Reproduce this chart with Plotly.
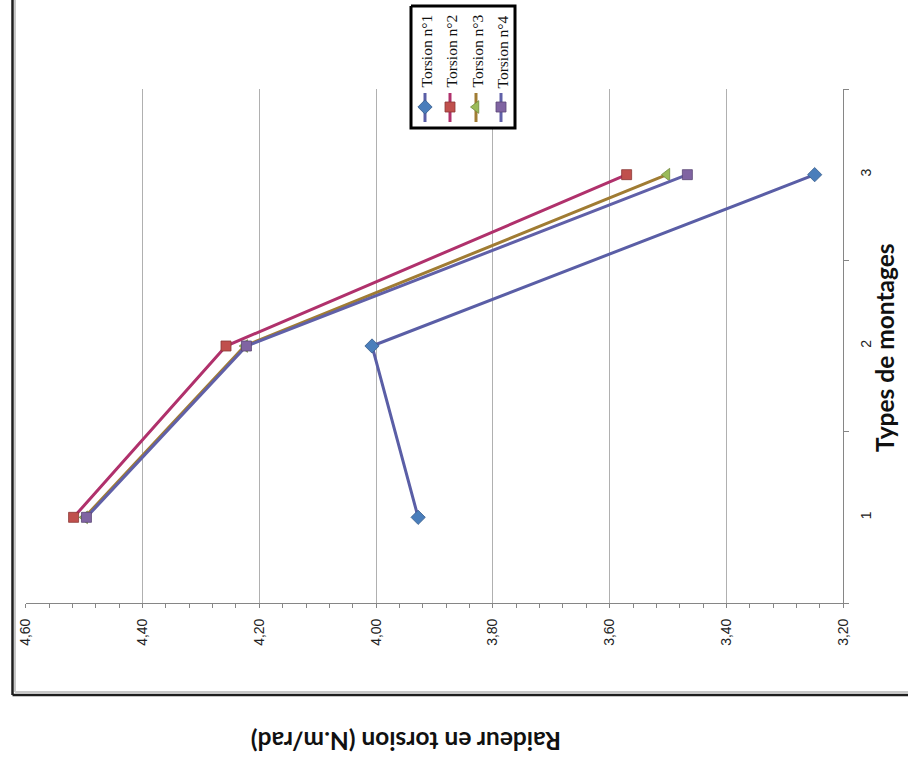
import plotly.graph_objects as go

# Data: torsional stiffness per mounting type
categories = [1, 2, 3]
series_names = ["Torsion n°1", "Torsion n°2", "Torsion n°3", "Torsion n°4"]
torsion_1 = [3.928, 4.007, 3.249]
torsion_2 = [4.518, 4.257, 3.571]
torsion_3 = [4.499, 4.225, 3.502]
torsion_4 = [4.496, 4.222, 3.467]
value_ticks = [3.20, 3.40, 3.60, 3.80, 4.00, 4.20, 4.40, 4.60]

W, H = 908, 767

line_colors = ["#5A5EA6", "#B0316C", "#A07C33", "#6060A8"]
marker_fill = ["#4A7EBB", "#C0504D", "#9BBB59", "#8064A2"]
marker_edge = ["#385D8A", "#8C3836", "#71893F", "#5C4776"]
symbols = ["diamond", "square", "triangle-left", "square"]
msizes = [11, 10, 11, 10]
all_series = [torsion_1, torsion_2, torsion_3, torsion_4]

fig = go.Figure()

for name, vals, lc, mf, me, sym, ms in zip(series_names, all_series, line_colors,
                                            marker_fill, marker_edge, symbols, msizes):
    fig.add_trace(go.Scatter(
        x=vals, y=categories, mode="lines+markers", name=name,
        line=dict(color=lc, width=3),
        marker=dict(symbol=sym, size=ms, color=mf, line=dict(color=me, width=0.8)),
        showlegend=False, hoverinfo="skip",
    ))

# helper trace so the category tick-mark axis is rendered
fig.add_trace(go.Scatter(x=[None], y=[None], yaxis="y2", showlegend=False))

# plot area in pixels
L, R, T, B = 25.7, 843.3, 89.0, 603.0

# rotated legend drawn in pixel space (x3/y3 cover the whole canvas)
leg_x = [425, 450, 476, 501]
leg_line_top, leg_line_bot, leg_marker_y = 93, 122, 107

# legend frame (white box with thick black border)
fig.add_trace(go.Scatter(
    x=[411, 515, 515, 411, 411], y=[6, 6, 128, 128, 6], mode="lines",
    fill="toself", fillcolor="white", line=dict(color="black", width=3),
    xaxis="x3", yaxis="y3", showlegend=False, hoverinfo="skip"))

for i in range(4):
    fig.add_trace(go.Scatter(
        x=[leg_x[i], leg_x[i]], y=[leg_line_top, leg_line_bot], mode="lines",
        line=dict(color=line_colors[i], width=3), xaxis="x3", yaxis="y3",
        showlegend=False, hoverinfo="skip"))
    fig.add_trace(go.Scatter(
        x=[leg_x[i]], y=[leg_marker_y], mode="markers",
        marker=dict(symbol=symbols[i], size=msizes[i], color=marker_fill[i],
                    line=dict(color=marker_edge[i], width=0.8)),
        xaxis="x3", yaxis="y3", showlegend=False, hoverinfo="skip"))

axis_grey = "#868686"
tick_font = dict(family="Liberation Sans, Arial", size=14, color="#222222")

fig.update_layout(
    width=W, height=H,
    margin=dict(l=0, r=0, t=0, b=0, autoexpand=False),
    paper_bgcolor="white", plot_bgcolor="rgba(0,0,0,0)",
    separators=", ",
    xaxis=dict(
        domain=[L / W, R / W], anchor="y",
        range=[4.60, 3.20], tickvals=value_ticks, tickformat=".2f",
        tickangle=-90, tickfont=tick_font,
        showgrid=True, gridcolor="#B0B0B0", gridwidth=1,
        showline=True, linecolor=axis_grey, linewidth=1,
        ticks="outside", ticklen=4, tickcolor=axis_grey,
        minor=dict(dtick=0.04, tick0=3.2, ticks="outside", ticklen=4,
                   tickcolor=axis_grey, showgrid=False),
        zeroline=False, fixedrange=True, ticklabelstandoff=5,
    ),
    yaxis=dict(
        domain=[1 - B / H, 1 - T / H], anchor="x", side="right",
        range=[0.5, 3.5], tickvals=categories, tickangle=-90,
        tickfont=tick_font, ticks="", showgrid=False,
        showline=True, linecolor=axis_grey, linewidth=1,
        zeroline=False, ticklabelstandoff=10,
    ),
    yaxis2=dict(
        overlaying="y", anchor="x", side="right", range=[0.5, 3.5],
        tickvals=[0.5, 1.5, 2.5, 3.5], ticks="outside", ticklen=5,
        tickcolor=axis_grey, showticklabels=False, showgrid=False,
        showline=False, zeroline=False,
    ),
    xaxis3=dict(domain=[0, 1], anchor="y3", range=[0, W], visible=False),
    yaxis3=dict(domain=[0, 1], anchor="x3", range=[H, 0], visible=False),
)

# outer chart border (left and bottom edges)
fig.add_shape(type="line", xref="paper", yref="paper",
              x0=15 / W, x1=15 / W, y0=1, y1=1 - 692 / H,
              line=dict(color="#C8C8C8", width=2))
fig.add_shape(type="line", xref="paper", yref="paper",
              x0=15 / W, x1=1, y0=1 - 692 / H, y1=1 - 692 / H,
              line=dict(color="#C8C8C8", width=2))
fig.add_shape(type="line", xref="paper", yref="paper",
              x0=12.5 / W, x1=12.5 / W, y0=1, y1=1 - 695 / H,
              line=dict(color="#1E1E1E", width=2.5))
fig.add_shape(type="line", xref="paper", yref="paper",
              x0=12.5 / W, x1=1, y0=1 - 695 / H, y1=1 - 695 / H,
              line=dict(color="#1E1E1E", width=2.5))

# legend labels
for i, name in enumerate(series_names):
    fig.add_annotation(x=(leg_x[i] + 1) / W, y=1 - 90 / H, xref="paper", yref="paper",
                       text=name, textangle=-90, showarrow=False,
                       xanchor="center", yanchor="bottom",
                       font=dict(family="Liberation Serif, DejaVu Serif", size=15.5, color="#111111"))

# axis titles
fig.add_annotation(x=406 / W, y=1 - 742 / H, xref="paper", yref="paper",
                   text="<b>Raideur en torsion (N.m/rad)</b>", textangle=180,
                   showarrow=False, xanchor="center", yanchor="middle",
                   font=dict(family="Lato, Open Sans", size=24.5, color="#111111"))
fig.add_annotation(x=884 / W, y=1 - 348 / H, xref="paper", yref="paper",
                   text="<b>Types de montages</b>", textangle=-90,
                   showarrow=False, xanchor="center", yanchor="middle",
                   font=dict(family="Lato, Open Sans", size=24.5, color="#111111"))

fig.write_html("out.html")
